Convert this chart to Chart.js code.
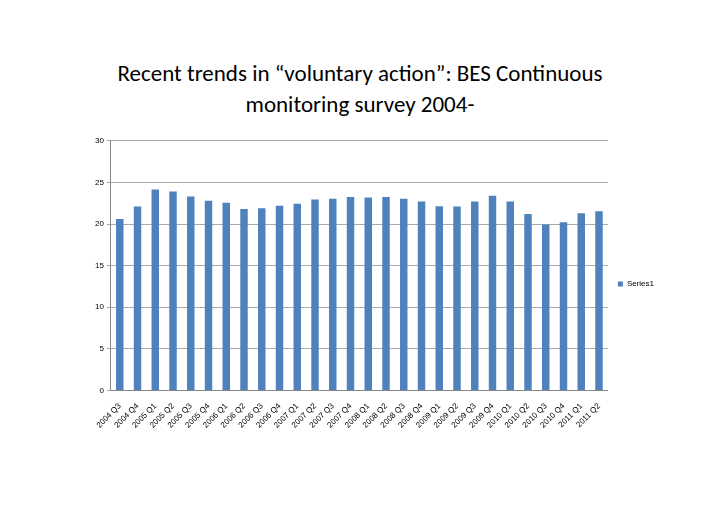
<!DOCTYPE html><html><head><script src="https://cdn.jsdelivr.net/npm/chart.js@4"></script>
<style>body{margin:0;background:#fff}
h1{position:absolute;top:58px;left:0;width:720px;text-align:center;font:400 23px Calibri,Carlito,"Liberation Sans",sans-serif;line-height:31px;margin:0;color:#000}
#c{position:absolute;left:92px;top:133px;width:572px;height:300px}</style></head><body>
<h1>Recent trends in “voluntary action”: BES Continuous<br>monitoring survey 2004-</h1>
<div id="c"><canvas id="cv"></canvas></div>
<script>
const categories=["2004 Q3","2004 Q4","2005 Q1","2005 Q2","2005 Q3","2005 Q4","2006 Q1","2006 Q2","2006 Q3","2006 Q4","2007 Q1","2007 Q2","2007 Q3","2007 Q4","2008 Q1","2008 Q2","2008 Q3","2008 Q4","2009 Q1","2009 Q2","2009 Q3","2009 Q4","2010 Q1","2010 Q2","2010 Q3","2010 Q4","2011 Q1","2011 Q2"];
const series1=[20.6,22.1,24.15,23.9,23.3,22.8,22.55,21.8,21.9,22.2,22.45,22.95,23.05,23.25,23.2,23.25,23.05,22.7,22.15,22.1,22.7,23.4,22.7,21.2,19.95,20.2,21.3,21.55];
const yTicks=[0,5,10,15,20,25,30];
new Chart(document.getElementById('cv'),{type:'bar',data:{labels:categories,datasets:[{label:'Series1',data:series1,backgroundColor:'#4f81bd',categoryPercentage:1,barPercentage:0.42}]},
options:{responsive:true,maintainAspectRatio:false,animation:false,layout:{padding:{top:2}},
plugins:{legend:{position:'right',labels:{boxWidth:5,boxHeight:5,font:{size:8},color:'#000'}},tooltip:{enabled:false}},
scales:{x:{grid:{display:false},border:{color:'#888'},ticks:{maxRotation:45,minRotation:45,autoSkip:false,font:{size:8},color:'#000'}},
y:{min:0,max:30,afterBuildTicks:a=>{a.ticks=yTicks.map(v=>({value:v}))},grid:{color:'#aaa',drawTicks:true,tickLength:4},border:{color:'#888'},ticks:{font:{size:8},color:'#000'}}}}});
</script></body></html>
